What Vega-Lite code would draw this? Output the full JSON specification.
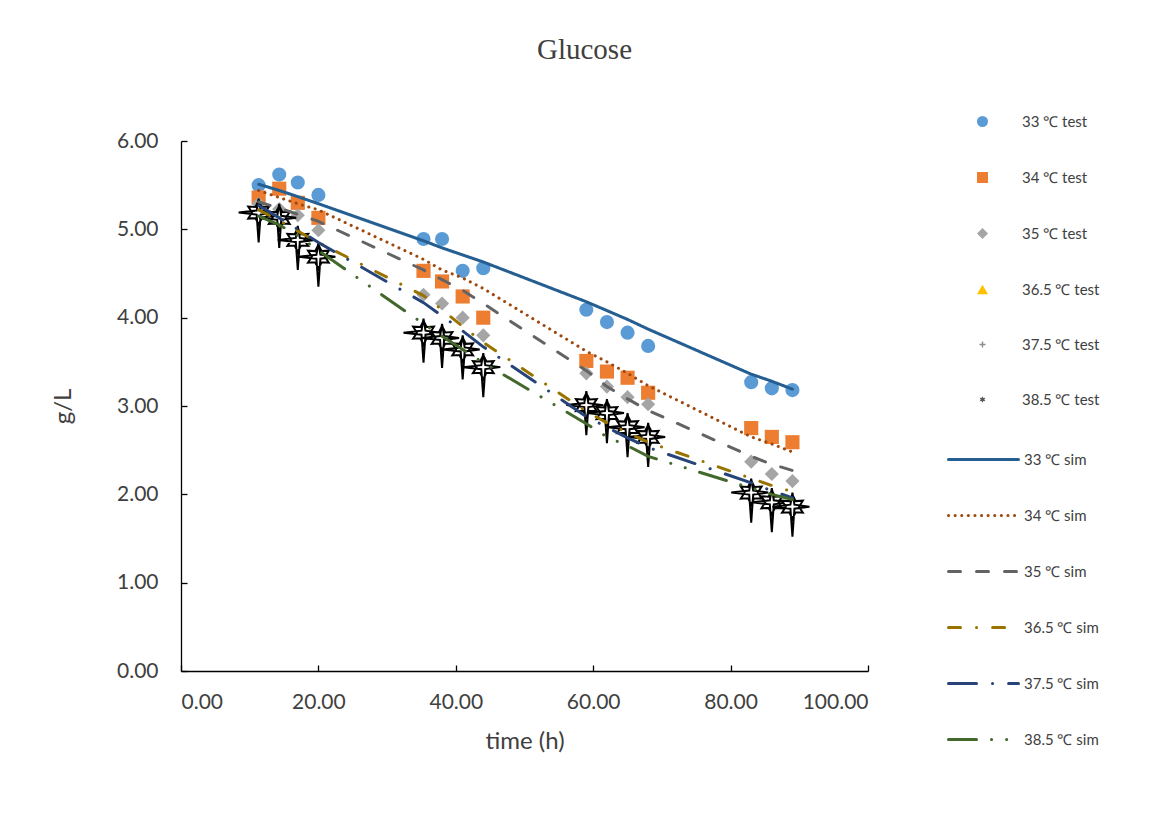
{
  "$schema": "https://vega.github.io/schema/vega-lite/v6.json",
  "width": 687,
  "height": 530,
  "autosize": {"type": "none"},
  "padding": {"left": 181, "top": 141, "right": 284, "bottom": 146},
  "background": "white",
  "title": {
    "text": "Glucose",
    "font": "Liberation Serif",
    "fontSize": 29,
    "fontWeight": "normal",
    "color": "#404040",
    "anchor": "middle",
    "frame": "group",
    "baseline": "alphabetic",
    "offset": 26,
    "dx": 60
  },
  "datasets": {
    "test": [
      {"s": "33 ℃ test", "t": 11.3, "g": 5.50}, {"s": "33 ℃ test", "t": 14.3, "g": 5.62}, {"s": "33 ℃ test", "t": 17, "g": 5.53}, {"s": "33 ℃ test", "t": 20, "g": 5.39},
      {"s": "33 ℃ test", "t": 35.3, "g": 4.89}, {"s": "33 ℃ test", "t": 38, "g": 4.89}, {"s": "33 ℃ test", "t": 41, "g": 4.53}, {"s": "33 ℃ test", "t": 44, "g": 4.56},
      {"s": "33 ℃ test", "t": 59, "g": 4.09}, {"s": "33 ℃ test", "t": 62, "g": 3.95}, {"s": "33 ℃ test", "t": 65, "g": 3.83}, {"s": "33 ℃ test", "t": 68, "g": 3.68},
      {"s": "33 ℃ test", "t": 83, "g": 3.27}, {"s": "33 ℃ test", "t": 86, "g": 3.20}, {"s": "33 ℃ test", "t": 89, "g": 3.18},
      {"s": "34 ℃ test", "t": 11.3, "g": 5.36}, {"s": "34 ℃ test", "t": 14.3, "g": 5.46}, {"s": "34 ℃ test", "t": 17, "g": 5.30}, {"s": "34 ℃ test", "t": 20, "g": 5.13},
      {"s": "34 ℃ test", "t": 35.3, "g": 4.53}, {"s": "34 ℃ test", "t": 38, "g": 4.41}, {"s": "34 ℃ test", "t": 41, "g": 4.24}, {"s": "34 ℃ test", "t": 44, "g": 4.00},
      {"s": "34 ℃ test", "t": 59, "g": 3.51}, {"s": "34 ℃ test", "t": 62, "g": 3.39}, {"s": "34 ℃ test", "t": 65, "g": 3.32}, {"s": "34 ℃ test", "t": 68, "g": 3.15},
      {"s": "34 ℃ test", "t": 83, "g": 2.75}, {"s": "34 ℃ test", "t": 86, "g": 2.65}, {"s": "34 ℃ test", "t": 89, "g": 2.59},
      {"s": "35 ℃ test", "t": 11.3, "g": 5.29}, {"s": "35 ℃ test", "t": 14.3, "g": 5.23}, {"s": "35 ℃ test", "t": 17, "g": 5.16}, {"s": "35 ℃ test", "t": 20, "g": 4.99},
      {"s": "35 ℃ test", "t": 35.3, "g": 4.26}, {"s": "35 ℃ test", "t": 38, "g": 4.16}, {"s": "35 ℃ test", "t": 41, "g": 4.00}, {"s": "35 ℃ test", "t": 44, "g": 3.80},
      {"s": "35 ℃ test", "t": 59, "g": 3.37}, {"s": "35 ℃ test", "t": 62, "g": 3.22}, {"s": "35 ℃ test", "t": 65, "g": 3.10}, {"s": "35 ℃ test", "t": 68, "g": 3.02},
      {"s": "35 ℃ test", "t": 83, "g": 2.37}, {"s": "35 ℃ test", "t": 86, "g": 2.23}, {"s": "35 ℃ test", "t": 89, "g": 2.15},
      {"s": "38.5 ℃ test", "t": 11.3, "g": 5.19}, {"s": "38.5 ℃ test", "t": 14.3, "g": 5.13}, {"s": "38.5 ℃ test", "t": 17, "g": 4.88}, {"s": "38.5 ℃ test", "t": 20, "g": 4.69},
      {"s": "38.5 ℃ test", "t": 35.3, "g": 3.83}, {"s": "38.5 ℃ test", "t": 38, "g": 3.77}, {"s": "38.5 ℃ test", "t": 41, "g": 3.64}, {"s": "38.5 ℃ test", "t": 44, "g": 3.44},
      {"s": "38.5 ℃ test", "t": 59, "g": 3.01}, {"s": "38.5 ℃ test", "t": 62, "g": 2.92}, {"s": "38.5 ℃ test", "t": 65, "g": 2.76}, {"s": "38.5 ℃ test", "t": 68, "g": 2.65},
      {"s": "38.5 ℃ test", "t": 83, "g": 2.02}, {"s": "38.5 ℃ test", "t": 86, "g": 1.91}, {"s": "38.5 ℃ test", "t": 89, "g": 1.86}
    ],
    "sim": [
      {"s": "33 ℃ sim", "t": 11.3, "g": 5.51}, {"s": "33 ℃ sim", "t": 14.3, "g": 5.44}, {"s": "33 ℃ sim", "t": 17, "g": 5.37}, {"s": "33 ℃ sim", "t": 20, "g": 5.29},
      {"s": "33 ℃ sim", "t": 35.3, "g": 4.87}, {"s": "33 ℃ sim", "t": 38, "g": 4.79}, {"s": "33 ℃ sim", "t": 41, "g": 4.71}, {"s": "33 ℃ sim", "t": 44, "g": 4.63},
      {"s": "33 ℃ sim", "t": 59, "g": 4.18}, {"s": "33 ℃ sim", "t": 62, "g": 4.08}, {"s": "33 ℃ sim", "t": 65, "g": 3.98}, {"s": "33 ℃ sim", "t": 68, "g": 3.87},
      {"s": "33 ℃ sim", "t": 83, "g": 3.36}, {"s": "33 ℃ sim", "t": 86, "g": 3.28}, {"s": "33 ℃ sim", "t": 89, "g": 3.19},
      {"s": "34 ℃ sim", "t": 11.3, "g": 5.44}, {"s": "34 ℃ sim", "t": 14.3, "g": 5.36}, {"s": "34 ℃ sim", "t": 17, "g": 5.29}, {"s": "34 ℃ sim", "t": 20, "g": 5.22},
      {"s": "34 ℃ sim", "t": 35.3, "g": 4.66}, {"s": "34 ℃ sim", "t": 38, "g": 4.54}, {"s": "34 ℃ sim", "t": 41, "g": 4.45}, {"s": "34 ℃ sim", "t": 44, "g": 4.33},
      {"s": "34 ℃ sim", "t": 59, "g": 3.62}, {"s": "34 ℃ sim", "t": 62, "g": 3.50}, {"s": "34 ℃ sim", "t": 65, "g": 3.37}, {"s": "34 ℃ sim", "t": 68, "g": 3.23},
      {"s": "34 ℃ sim", "t": 83, "g": 2.65}, {"s": "34 ℃ sim", "t": 86, "g": 2.57}, {"s": "34 ℃ sim", "t": 89, "g": 2.48},
      {"s": "35 ℃ sim", "t": 11.3, "g": 5.31}, {"s": "35 ℃ sim", "t": 14.3, "g": 5.24}, {"s": "35 ℃ sim", "t": 17, "g": 5.17}, {"s": "35 ℃ sim", "t": 20, "g": 5.09},
      {"s": "35 ℃ sim", "t": 35.3, "g": 4.54}, {"s": "35 ℃ sim", "t": 38, "g": 4.43}, {"s": "35 ℃ sim", "t": 41, "g": 4.31}, {"s": "35 ℃ sim", "t": 44, "g": 4.16},
      {"s": "35 ℃ sim", "t": 59, "g": 3.40}, {"s": "35 ℃ sim", "t": 62, "g": 3.22}, {"s": "35 ℃ sim", "t": 65, "g": 3.08}, {"s": "35 ℃ sim", "t": 68, "g": 2.95},
      {"s": "35 ℃ sim", "t": 83, "g": 2.43}, {"s": "35 ℃ sim", "t": 86, "g": 2.34}, {"s": "35 ℃ sim", "t": 89, "g": 2.27},
      {"s": "36.5 ℃ sim", "t": 11.3, "g": 5.22}, {"s": "36.5 ℃ sim", "t": 14.3, "g": 5.10}, {"s": "36.5 ℃ sim", "t": 17, "g": 4.98}, {"s": "36.5 ℃ sim", "t": 20, "g": 4.85},
      {"s": "36.5 ℃ sim", "t": 35.3, "g": 4.25}, {"s": "36.5 ℃ sim", "t": 38, "g": 4.09}, {"s": "36.5 ℃ sim", "t": 41, "g": 3.90}, {"s": "36.5 ℃ sim", "t": 44, "g": 3.72},
      {"s": "36.5 ℃ sim", "t": 59, "g": 2.94}, {"s": "36.5 ℃ sim", "t": 62, "g": 2.81}, {"s": "36.5 ℃ sim", "t": 65, "g": 2.70}, {"s": "36.5 ℃ sim", "t": 68, "g": 2.59},
      {"s": "36.5 ℃ sim", "t": 83, "g": 2.18}, {"s": "36.5 ℃ sim", "t": 86, "g": 2.10}, {"s": "36.5 ℃ sim", "t": 89, "g": 2.03},
      {"s": "37.5 ℃ sim", "t": 11.3, "g": 5.27}, {"s": "37.5 ℃ sim", "t": 14.3, "g": 5.13}, {"s": "37.5 ℃ sim", "t": 17, "g": 5.00}, {"s": "37.5 ℃ sim", "t": 20, "g": 4.85},
      {"s": "37.5 ℃ sim", "t": 35.3, "g": 4.17}, {"s": "37.5 ℃ sim", "t": 38, "g": 4.02}, {"s": "37.5 ℃ sim", "t": 41, "g": 3.85}, {"s": "37.5 ℃ sim", "t": 44, "g": 3.67},
      {"s": "37.5 ℃ sim", "t": 59, "g": 2.88}, {"s": "37.5 ℃ sim", "t": 62, "g": 2.76}, {"s": "37.5 ℃ sim", "t": 65, "g": 2.64}, {"s": "37.5 ℃ sim", "t": 68, "g": 2.53},
      {"s": "37.5 ℃ sim", "t": 83, "g": 2.13}, {"s": "37.5 ℃ sim", "t": 86, "g": 2.04}, {"s": "37.5 ℃ sim", "t": 89, "g": 1.96},
      {"s": "38.5 ℃ sim", "t": 11.3, "g": 5.15}, {"s": "38.5 ℃ sim", "t": 14.3, "g": 5.05}, {"s": "38.5 ℃ sim", "t": 17, "g": 4.93}, {"s": "38.5 ℃ sim", "t": 20, "g": 4.76},
      {"s": "38.5 ℃ sim", "t": 35.3, "g": 3.93}, {"s": "38.5 ℃ sim", "t": 38, "g": 3.79}, {"s": "38.5 ℃ sim", "t": 41, "g": 3.64}, {"s": "38.5 ℃ sim", "t": 44, "g": 3.49},
      {"s": "38.5 ℃ sim", "t": 59, "g": 2.80}, {"s": "38.5 ℃ sim", "t": 62, "g": 2.65}, {"s": "38.5 ℃ sim", "t": 65, "g": 2.55}, {"s": "38.5 ℃ sim", "t": 68, "g": 2.43},
      {"s": "38.5 ℃ sim", "t": 83, "g": 2.07}, {"s": "38.5 ℃ sim", "t": 86, "g": 2.00}, {"s": "38.5 ℃ sim", "t": 89, "g": 1.94}
    ]
  },
  "encoding": {
    "x": {
      "field": "t", "type": "quantitative",
      "scale": {"domain": [0, 100], "nice": false, "zero": false},
      "axis": {"values": [0, 20, 40, 60, 80, 100], "format": ".2f", "title": "time (h)", "tickSize": -6, "labelPadding": 26, "titlePadding": 17}
    },
    "y": {
      "field": "g", "type": "quantitative",
      "scale": {"domain": [0, 6], "nice": false},
      "axis": {"values": [0, 1, 2, 3, 4, 5, 6], "format": ".2f", "title": "g/L", "tickSize": -6, "labelPadding": 29, "titlePadding": 41}
    }
  },
  "layer": [
    {
      "data": {"name": "test"},
      "transform": [{"filter": "datum.s !== '38.5 ℃ test'"}],
      "mark": {"type": "point", "filled": true, "opacity": 1, "size": 200},
      "encoding": {
        "fill": {
          "field": "s", "type": "nominal",
          "scale": {"domain": ["33 ℃ test", "34 ℃ test", "35 ℃ test", "36.5 ℃ test", "37.5 ℃ test", "38.5 ℃ test"],
                    "range": ["#5B9BD5", "#ED7D31", "#A5A5A5", "#FFC000", "#8C8C8C", "#595959"]},
          "legend": {
            "title": null, "orient": "none", "legendX": 794, "legendY": -27,
            "symbolSize": 121, "labelOffset": 32, "rowPadding": 39
          }
        },
        "shape": {
          "field": "s", "type": "nominal",
          "scale": {"domain": ["33 ℃ test", "34 ℃ test", "35 ℃ test", "36.5 ℃ test", "37.5 ℃ test", "38.5 ℃ test"],
                    "range": ["circle", "square", "diamond", "triangle-up",
                              "M-0.55,-0.13L-0.13,-0.13L-0.13,-0.55L0.13,-0.55L0.13,-0.13L0.55,-0.13L0.55,0.13L0.13,0.13L0.13,0.55L-0.13,0.55L-0.13,0.13L-0.55,0.13Z",
                              "M0,-0.6L0.16,-0.28L0.52,-0.3L0.33,0L0.52,0.3L0.16,0.28L0,0.6L-0.16,0.28L-0.52,0.3L-0.33,0L-0.52,-0.3L-0.16,-0.28Z"]}
        }
      }
    },
    {
      "data": {"name": "test"},
      "transform": [{"filter": "datum.s === '38.5 ℃ test'"}],
      "mark": {"type": "point", "filled": true, "opacity": 1, "size": 1600, "stroke": "#000000", "strokeWidth": 2, "fill": "#FFFFFF",
               "shape": "M0,-0.6L0.16,-0.28L0.52,-0.3L0.33,0L0.52,0.3L0.16,0.28L0,0.6L-0.16,0.28L-0.52,0.3L-0.33,0L-0.52,-0.3L-0.16,-0.28ZM0,-0.7L0.1,-0.1L0.85,0L0.1,0.1L0,1.5L-0.1,0.1L-1,0L-0.1,-0.1Z"},
      "encoding": {}
    },
    {
      "data": {"name": "sim"},
      "mark": {"type": "line", "strokeWidth": 3, "strokeCap": "round"},
      "encoding": {
        "stroke": {
          "field": "s", "type": "nominal",
          "scale": {"domain": ["33 ℃ sim", "34 ℃ sim", "35 ℃ sim", "36.5 ℃ sim", "37.5 ℃ sim", "38.5 ℃ sim"],
                    "range": ["#255E91", "#9E480E", "#636363", "#997300", "#264478", "#43682B"]},
          "legend": {
            "title": null, "orient": "none", "legendX": 766, "legendY": 282,
            "symbolType": "stroke", "symbolSize": 4900, "symbolStrokeWidth": 3, "labelOffset": 4, "rowPadding": 11,
            "encode": {"symbols": {"update": {"strokeCap": {"value": "round"}}}}
          }
        },
        "strokeDash": {
          "field": "s", "type": "nominal",
          "scale": {"domain": ["33 ℃ sim", "34 ℃ sim", "35 ℃ sim", "36.5 ℃ sim", "37.5 ℃ sim", "38.5 ℃ sim"],
                    "range": [[1, 0], [0.1, 6.5], [12, 16], [12, 16, 0.1, 16], [28, 16, 0.1, 16], [28, 15, 0.1, 15, 0.1, 15]]},
          "legend": null
        }
      }
    }
  ],
  "config": {
    "view": {"stroke": null},
    "axis": {
      "grid": false, "domainColor": "#000000", "domainWidth": 1.3, "tickColor": "#000000", "tickWidth": 1.3,
      "labelFont": "Lato", "labelFontSize": 21, "labelColor": "#404040",
      "titleFont": "Lato", "titleFontSize": 24, "titleColor": "#404040", "titleFontWeight": "normal"
    },
    "legend": {"labelFont": "Lato", "labelFontSize": 15, "labelColor": "#404040", "padding": 0, "labelLimit": 300}
  }
}
